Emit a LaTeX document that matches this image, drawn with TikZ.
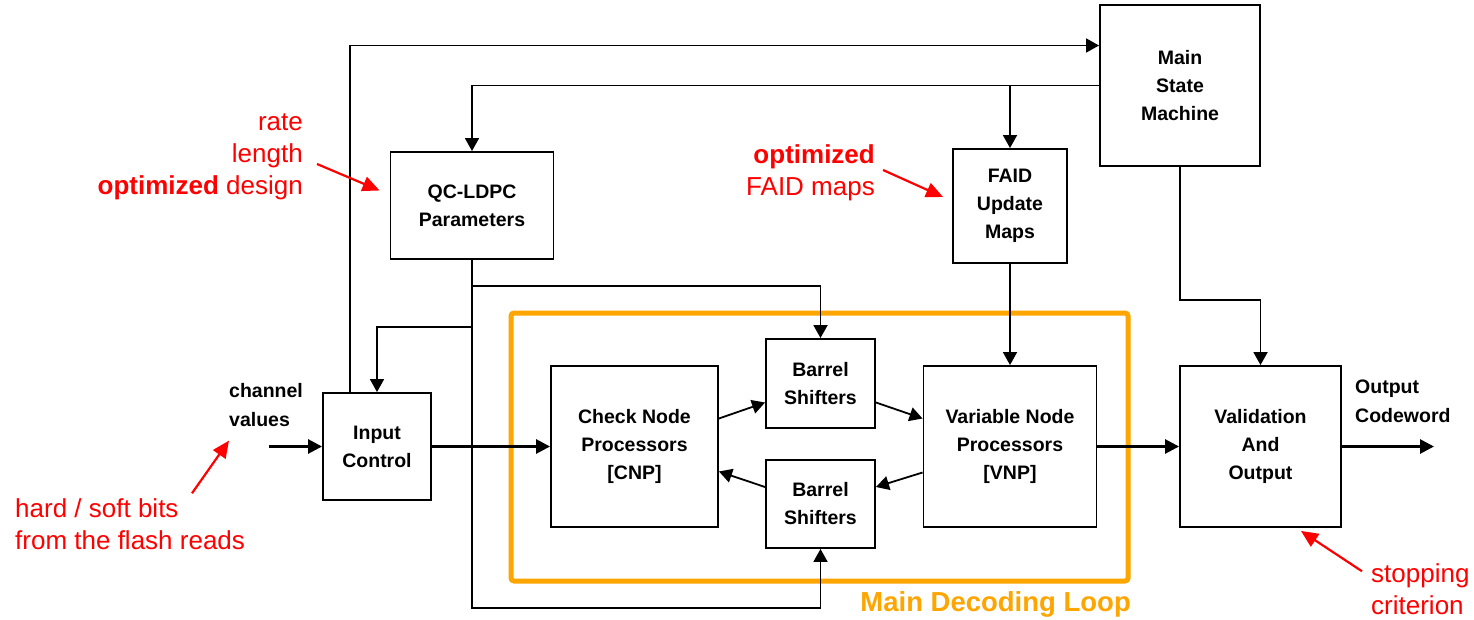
\documentclass[tikz,border=0pt]{standalone}
\usepackage{fontspec}
\setmainfont{Liberation Sans}
\usetikzlibrary{arrows.meta}
\definecolor{looporange}{RGB}{255,165,0}

\begin{document}
\begin{tikzpicture}[x=1pt, y=-1pt,
        blk/.style={draw, line width=1.9pt, align=center, inner sep=0pt, font=\fontsize{19.5}{28}\selectfont\bfseries},
        lbl/.style={inner sep=0pt, align=left, font=\fontsize{19.5}{28.5}\selectfont\bfseries},
        note/.style={inner sep=0pt, text=red, font=\fontsize{26}{32}\selectfont},
        arr/.style={line width=1.8pt, -{Triangle[length=13pt,width=14pt]}},
        bus/.style={line width=2.7pt, -{Triangle[length=14pt,width=14pt]}},
        redarr/.style={red, line width=2.2pt, -{Triangle[length=17pt,width=15pt]}}]
        \useasboundingbox (0,0) rectangle (1474,620);

        % decoder blocks
        \node[blk, minimum width=160pt, minimum height=161pt] (msm) at (1180,85.5) {Main\\State\\Machine};
        \node[blk, minimum width=163pt, minimum height=107pt] (qc) at (472,205.5) {QC-LDPC\\Parameters};
        \node[blk, minimum width=114pt, minimum height=114pt] (faid) at (1010,206) {FAID\\Update\\Maps};
        \node[blk, minimum width=108pt, minimum height=107pt] (inp) at (377,446.5) {Input\\Control};
        \node[blk, minimum width=167pt, minimum height=161pt] (cnp) at (634.5,446.5) {Check Node\\Processors\\{}[CNP]};
        \node[blk, minimum width=109pt, minimum height=89pt] (bs1) at (820.5,383.5) {Barrel\\Shifters};
        \node[blk, minimum width=109pt, minimum height=88pt] (bs2) at (820.5,504) {Barrel\\Shifters};
        \node[blk, minimum width=173pt, minimum height=161pt] (vnp) at (1010,446.5) {Variable Node\\Processors\\{}[VNP]};
        \node[blk, minimum width=161pt, minimum height=161pt] (val) at (1260.5,446.5) {Validation\\And\\Output};

        % main decoding loop
        \draw[looporange, line width=5pt, rounded corners=3pt] (511,313) rectangle (1128,581);
        \node[anchor=east, inner sep=0pt, text=looporange, font=\fontsize{27.5}{32}\selectfont\bfseries] (loop) at (1131,604) {Main Decoding Loop};

        % in / out
        \node[lbl, anchor=west] (chv) at (229,405) {channel\\values};
        \coordinate (ch) at (269,446.5);
        \node[lbl, anchor=west] (outcw) at (1355,401.5) {Output\\Codeword};
        \coordinate (out) at (1434,446.5);

        % control lines
        \draw[arr] ([xshift=-27pt]inp.north) |- ([yshift=40pt]msm.west);
        \draw[arr] (msm.west) -| (qc.north);
        \draw[arr] (faid.north |- msm.west) -- (faid.north);
        \draw[arr] (faid.south) -- (vnp.north);
        \draw[arr] (msm.south) -- ++(0,133) -| (val.north);
        \draw[arr] (qc.south) -- ++(0,67) -| (inp.north);
        \draw[arr] (qc.south) -- ++(0,348) -| (bs2.south);
        \draw[arr] (qc.south) ++(0,26) -| (bs1.north);

        % data path
        \draw[bus] (ch) -- (inp.west);
        \draw[bus] (inp.east) -- (cnp.west);
        \draw[arr] ([yshift=28pt]cnp.east) -- ([yshift=-19pt]bs1.west);
        \draw[arr] ([yshift=17pt]bs2.west) -- ([yshift=-25pt]cnp.east);
        \draw[arr] ([yshift=-19pt]bs1.east) -- ([yshift=28pt]vnp.west);
        \draw[arr] ([yshift=-26pt]vnp.west) -- ([yshift=17pt]bs2.east);
        \draw[bus] (vnp.east) -- (val.west);
        \draw[bus] (val.east) -- (out);

        % red notes
        \node[note, anchor=east, align=right] (rl) at (303,157) {rate\\length\\\textbf{optimized} design};
        \node[note, anchor=east, align=right] (fo) at (875,173) {\textbf{optimized}\\FAID maps};
        \node[note, anchor=west, align=left] (hs) at (15,524) {hard / soft bits\\from the flash reads};
        \node[note, anchor=west, align=left] (sc) at (1371,589) {stopping\\criterion};
        \draw[redarr] ([xshift=14pt,yshift=-7pt]rl.east) -- ([xshift=-10pt,yshift=15pt]qc.west);
        \draw[redarr] ([xshift=8pt,yshift=3pt]fo.east) -- ([xshift=-9pt,yshift=9pt]faid.west);
        \draw[redarr] ([xshift=177pt,yshift=5pt]hs.north west) -- ([yshift=-14pt]chv.south west);
        \draw[redarr] ([xshift=-9pt,yshift=-8pt]sc.north west) -- ([xshift=-41pt,yshift=-3pt]val.south east);
        \end{tikzpicture}
\end{document}
